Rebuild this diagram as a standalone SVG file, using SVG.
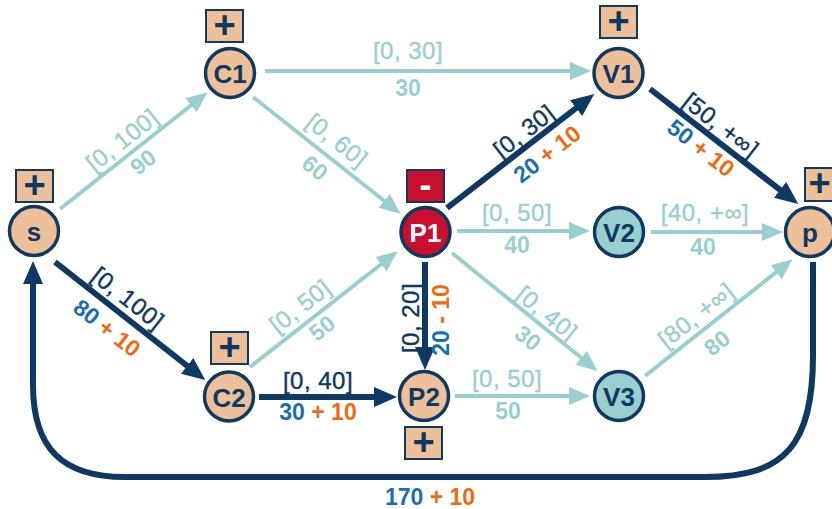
<svg xmlns="http://www.w3.org/2000/svg" width="832" height="509" viewBox="0 0 832 509">
  <defs>
    <marker id="ah-teal" markerUnits="userSpaceOnUse" markerWidth="22" markerHeight="20" refX="10" refY="10" orient="auto">
      <path d="M0,1 L21,10 L0,19 z" fill="#99cfcf"/>
    </marker>
    <marker id="ah-navy" markerUnits="userSpaceOnUse" markerWidth="24" markerHeight="22" refX="10" refY="11" orient="auto">
      <path d="M0,1 L23,11 L0,21 z" fill="#0f3862"/>
    </marker>
  </defs>
  <style>
    .bg { fill: #ffffff; }
    .edge-l { fill: none; stroke: #99cfcf; stroke-width: 4; marker-end: url(#ah-teal); }
    .edge-d { fill: none; stroke: #0f3862; stroke-width: 6; marker-end: url(#ah-navy); }
    .node { stroke: #0f3862; stroke-width: 3.5; }
    .peach { fill: #eec09a; }
    .tealf { fill: #99cfcf; }
    .redf { fill: #c8102e; }
    .nlabel { font-family: "Liberation Sans", Arial, sans-serif; font-weight: bold; font-size: 26px; fill: #0f3862; text-anchor: middle; dominant-baseline: central; }
    .nlabel.w { fill: #ffffff; }
    .box { stroke: #0f3862; stroke-width: 2; }
    .sign { font-family: "Liberation Sans", Arial, sans-serif; font-weight: bold; font-size: 38px; fill: #0f3862; text-anchor: middle; dominant-baseline: central; }
    .sign.w { fill: #ffffff; font-size: 36px; }
    .rng { font-family: "Liberation Sans", Arial, sans-serif; font-size: 24px; text-anchor: middle; dominant-baseline: central; letter-spacing: 0.5px; stroke-width: 0.4px; }
    .flw { font-family: "Liberation Sans", Arial, sans-serif; font-weight: bold; font-size: 23px; text-anchor: middle; dominant-baseline: central; }
    .lt { fill: #99cfcf; }
    .rng.lt { stroke: #99cfcf; }
    .dk { fill: #0f3862; }
    .rng.dk { stroke: #0f3862; }
    .bl { fill: #1a6fb0; }
    .or { fill: #f26a10; }
  </style>
  <rect class="bg" x="0" y="0" width="832" height="509"/>

  <!-- connectors -->
  <g id="connectors">
    <line id="e-s-c1" class="edge-l" x1="60" y1="209" x2="199" y2="99"/>
    <line id="e-c1-v1" class="edge-l" x1="265" y1="71" x2="580" y2="71"/>
    <line id="e-c1-p1" class="edge-l" x1="253" y1="97" x2="392" y2="207"/>
    <line id="e-s-c2" class="edge-d" x1="55" y1="262" x2="195" y2="372"/>
    <line id="e-c2-p1" class="edge-l" x1="250" y1="367" x2="389" y2="258"/>
    <line id="e-c2-p2" class="edge-d" x1="259" y1="397" x2="384" y2="397"/>
    <line id="e-p1-p2" class="edge-d" x1="425" y1="262" x2="425" y2="357"/>
    <line id="e-p1-v1" class="edge-d" x1="447" y1="208" x2="584" y2="102"/>
    <line id="e-p1-v2" class="edge-l" x1="457" y1="231" x2="579" y2="231"/>
    <line id="e-p1-v3" class="edge-l" x1="452" y1="253" x2="589" y2="364"/>
    <line id="e-p2-v3" class="edge-l" x1="455" y1="396" x2="579" y2="396"/>
    <line id="e-v1-p" class="edge-d" x1="650" y1="89" x2="788" y2="196"/>
    <line id="e-v2-p" class="edge-l" x1="651" y1="232" x2="772" y2="232"/>
    <line id="e-v3-p" class="edge-l" x1="645" y1="376" x2="784" y2="266"/>
    <path id="e-p-s" class="edge-d" d="M813,262 L813,355 C813,445 785,477 705,477 L125,477 C62,477 33,448 33,385 L33,274"/>

    <!-- edge labels -->
    <text class="rng lt" transform="translate(122,140) rotate(-38.3)">[0, 100]</text>
    <text class="flw lt" transform="translate(143,162) rotate(-38.3)">90</text>

    <text class="rng lt" x="408" y="50">[0, 30]</text>
    <text class="flw lt" x="408" y="88">30</text>

    <text class="rng lt" transform="translate(337,140) rotate(38.3)">[0, 60]</text>
    <text class="flw lt" transform="translate(315,168) rotate(38.3)">60</text>

    <text class="rng dk" transform="translate(128,298) rotate(38)">[0, 100]</text>
    <text class="flw" transform="translate(107,328) rotate(38)"><tspan class="bl">80</tspan><tspan class="or"> + 10</tspan></text>

    <text class="rng lt" transform="translate(300,306) rotate(-38)">[0, 50]</text>
    <text class="flw lt" transform="translate(322,328) rotate(-38)">50</text>

    <text class="rng dk" x="318" y="380">[0, 40]</text>
    <text class="flw" x="318" y="412"><tspan class="bl">30</tspan><tspan class="or"> + 10</tspan></text>

    <text class="rng dk" transform="translate(410,318) rotate(-90)">[0, 20]</text>
    <text class="flw" transform="translate(441,320) rotate(-90)"><tspan class="bl">20</tspan><tspan class="or"> - 10</tspan></text>

    <text class="rng dk" transform="translate(524,131) rotate(-37.7)">[0, 30]</text>
    <text class="flw" transform="translate(547,154) rotate(-37.7)"><tspan class="bl">20</tspan><tspan class="or"> + 10</tspan></text>

    <text class="rng lt" x="517" y="212">[0, 50]</text>
    <text class="flw lt" x="517" y="245">40</text>

    <text class="rng lt" transform="translate(547,313) rotate(38.9)">[0, 40]</text>
    <text class="flw lt" transform="translate(528,338) rotate(38.9)">30</text>

    <text class="rng lt" x="507" y="378">[0, 50]</text>
    <text class="flw lt" x="508" y="411">50</text>

    <text class="rng dk" transform="translate(721,125) rotate(38)">[50, +∞]</text>
    <text class="flw" transform="translate(701,148) rotate(38)"><tspan class="bl">50</tspan><tspan class="or"> + 10</tspan></text>

    <text class="rng lt" x="705" y="212">[40, +∞]</text>
    <text class="flw lt" x="703" y="247">40</text>

    <text class="rng lt" transform="translate(696,315) rotate(-38)">[80, +∞]</text>
    <text class="flw lt" transform="translate(717,343) rotate(-38)">80</text>

    <text class="flw" x="430" y="497"><tspan class="bl">170</tspan><tspan class="or"> + 10</tspan></text>
  </g>

  <!-- nodes -->
  <g id="node-s">
    <rect class="box peach" x="16" y="170" width="37" height="32"/>
    <text class="sign" x="34.5" y="185">+</text>
    <circle class="node peach" cx="34" cy="231" r="24.5"/>
    <text class="nlabel" x="34" y="232">s</text>
  </g>
  <g id="node-c1">
    <rect class="box peach" x="206" y="10" width="37" height="32"/>
    <text class="sign" x="224.5" y="25">+</text>
    <circle class="node peach" cx="230" cy="73" r="24.5"/>
    <text class="nlabel" x="230" y="74">C1</text>
  </g>
  <g id="node-v1">
    <rect class="box peach" x="600" y="6" width="37" height="32"/>
    <text class="sign" x="618.5" y="21">+</text>
    <circle class="node peach" cx="618.5" cy="73" r="24.5"/>
    <text class="nlabel" x="618.5" y="74">V1</text>
  </g>
  <g id="node-p1">
    <rect class="box redf" x="407" y="170" width="37" height="32"/>
    <text class="sign w" x="425.5" y="184">-</text>
    <circle class="node redf" cx="425.5" cy="232" r="24.5"/>
    <text class="nlabel w" x="425.5" y="233">P1</text>
  </g>
  <g id="node-v2">
    <circle class="node tealf" cx="619" cy="232" r="24.5"/>
    <text class="nlabel" x="619" y="233">V2</text>
  </g>
  <g id="node-p">
    <rect class="box peach" x="805" y="168" width="37" height="33"/>
    <text class="sign" x="819.5" y="183">+</text>
    <circle class="node peach" cx="810" cy="232" r="24.5"/>
    <text class="nlabel" x="810" y="233">p</text>
  </g>
  <g id="node-c2">
    <rect class="box peach" x="211" y="332" width="37" height="32"/>
    <text class="sign" x="229.5" y="347">+</text>
    <circle class="node peach" cx="229" cy="396.5" r="24.5"/>
    <text class="nlabel" x="229" y="397.5">C2</text>
  </g>
  <g id="node-p2">
    <rect class="box peach" x="405" y="427" width="37" height="32"/>
    <text class="sign" x="423.5" y="442">+</text>
    <circle class="node peach" cx="424" cy="396" r="24.5"/>
    <text class="nlabel" x="424" y="397">P2</text>
  </g>
  <g id="node-v3">
    <circle class="node tealf" cx="619" cy="396" r="24.5"/>
    <text class="nlabel" x="619" y="397">V3</text>
  </g>
</svg>
